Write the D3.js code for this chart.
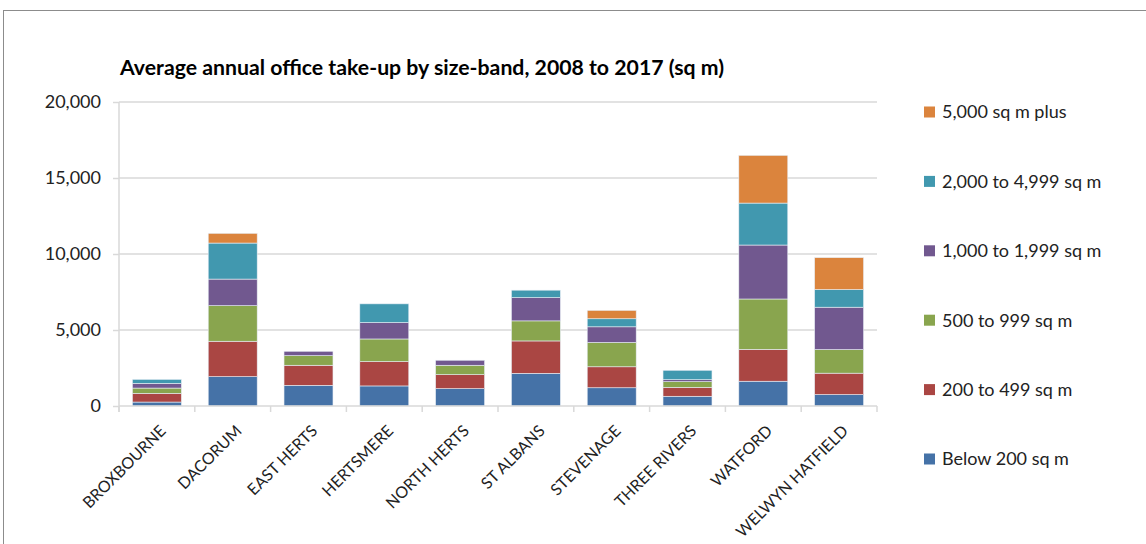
<!DOCTYPE html>
<html>
<head>
<meta charset="utf-8">
<script src="https://cdn.jsdelivr.net/npm/d3@7"></script>
<style>
  html, body { margin: 0; padding: 0; background: #fff; }
  svg { display: block; font-family: "Lato", "Open Sans", sans-serif; }
</style>
</head>
<body>
<svg id="chart" width="1146" height="544"></svg>
<script>
// Districts along the x axis
const districts = ["BROXBOURNE", "DACORUM", "EAST HERTS", "HERTSMERE", "NORTH HERTS",
  "ST ALBANS", "STEVENAGE", "THREE RIVERS", "WATFORD", "WELWYN HATFIELD"];

// Size bands, bottom of the stack first
const bands = ["Below 200 sq m", "200 to 499 sq m", "500 to 999 sq m",
  "1,000 to 1,999 sq m", "2,000 to 4,999 sq m", "5,000 sq m plus"];

// Average annual take-up (sq m) per band, one value per district
const below200   = [260, 1930, 1360, 1320, 1140, 2150, 1200, 640, 1630, 750];
const band200    = [570, 2330, 1320, 1600, 920, 2130, 1380, 590, 2100, 1410];
const band500    = [350, 2340, 630, 1490, 620, 1320, 1600, 370, 3310, 1550];
const band1000   = [310, 1750, 290, 1080, 330, 1530, 1030, 130, 3550, 2790];
const band2000   = [260, 2370, 0, 1230, 0, 490, 530, 620, 2760, 1160];
const band5000   = [0, 640, 0, 0, 0, 0, 550, 0, 3140, 2100];

const yTicks = [0, 5000, 10000, 15000, 20000];
const colors = ["#4572A7", "#AA4643", "#89A54E", "#71588F", "#4198AF", "#DB843D"];

const series = [below200, band200, band500, band1000, band2000, band5000];
const rows = districts.map((d, i) => {
  const r = { district: d };
  bands.forEach((b, j) => { r[b] = series[j][i]; });
  return r;
});

const svg = d3.select("#chart");

// Outer chart frame
svg.append("rect")
  .attr("x", 3.5).attr("y", 10.5)
  .attr("width", 1160).attr("height", 560)
  .attr("fill", "none").attr("stroke", "#8c8c8c").attr("stroke-width", 1);

const plot = { left: 119, right: 877, top: 102, bottom: 406 };

const x = d3.scaleBand().domain(districts)
  .range([plot.left, plot.right]).paddingInner(0.354).paddingOuter(0.177);
const y = d3.scaleLinear().domain([0, 20000]).range([plot.bottom, plot.top]);

// Title
svg.append("text")
  .attr("x", 120).attr("y", 75)
  .attr("font-size", 20).attr("font-weight", "bold").attr("fill", "#000")
  .attr("textLength", 604).attr("lengthAdjust", "spacingAndGlyphs")
  .text("Average annual office take-up by size-band, 2008 to 2017 (sq m)");

// Y axis with its labels
const yAxis = d3.axisLeft(y).tickValues(yTicks).tickSize(6).tickPadding(12)
  .tickFormat(d3.format(","));
const gy = svg.append("g").attr("transform", `translate(${plot.left},0)`).call(yAxis);
gy.select(".domain").attr("stroke", "#d9d9d9").attr("stroke-width", 1.5)
  .attr("d", `M0,${plot.top}V${plot.bottom + 6}`);
gy.selectAll(".tick line").attr("stroke", "#d9d9d9").attr("stroke-width", 1.5);
gy.selectAll(".tick text").attr("font-size", 18).attr("fill", "#222")
  .attr("font-family", "Lato, sans-serif");

// Horizontal gridlines
svg.append("g").selectAll("line")
  .data(yTicks.filter(v => v > 0))
  .join("line")
  .attr("x1", plot.left).attr("x2", plot.right)
  .attr("y1", d => y(d)).attr("y2", d => y(d))
  .attr("stroke", "#d9d9d9").attr("stroke-width", 1.5);

// Stacked bars
const stack = d3.stack().keys(bands)(rows);
svg.append("g").selectAll("g")
  .data(stack)
  .join("g")
  .attr("fill", (d, i) => colors[i])
  .selectAll("rect")
  .data(d => d)
  .join("rect")
  .attr("x", d => x(d.data.district))
  .attr("width", x.bandwidth())
  .attr("y", d => y(d[1]))
  .attr("height", d => Math.max(0, y(d[0]) - y(d[1])))
  .attr("stroke", d => (d[1] - d[0]) > 0 ? "#e8eef5" : "none")
  .attr("stroke-width", 0.6);

// X axis with category divider ticks
const gx = svg.append("g").attr("transform", `translate(0,${plot.bottom})`);
gx.append("line")
  .attr("x1", plot.left).attr("x2", plot.right)
  .attr("stroke", "#d9d9d9").attr("stroke-width", 1.5);
const dividers = d3.range(districts.length + 1).map(i => plot.left + i * (plot.right - plot.left) / districts.length);
gx.selectAll("line.div")
  .data(dividers)
  .join("line").attr("class", "div")
  .attr("x1", d => d).attr("x2", d => d)
  .attr("y1", 0).attr("y2", 6)
  .attr("stroke", "#d9d9d9").attr("stroke-width", 1.5);

gx.selectAll("text")
  .data(districts)
  .join("text")
  .attr("transform", d => `translate(${x(d) + x.bandwidth() / 2 + 6},${22}) rotate(-45)`)
  .attr("text-anchor", "end")
  .attr("font-size", 16).attr("fill", "#222")
  .attr("font-family", "Lato, sans-serif")
  .attr("dy", "0.35em")
  .text(d => d);

// Legend, largest band at the top
const legendBands = bands.slice().reverse();
const lg = svg.append("g").selectAll("g")
  .data(legendBands)
  .join("g")
  .attr("transform", (d, i) => `translate(924,${112 + i * 69.4})`);
lg.append("rect")
  .attr("x", 0).attr("y", -5.5).attr("width", 11).attr("height", 11)
  .attr("fill", d => colors[bands.indexOf(d)]);
lg.append("text")
  .attr("x", 18).attr("dy", "0.36em")
  .attr("font-size", 18).attr("fill", "#222")
  .text(d => d);
</script>
</body>
</html>
